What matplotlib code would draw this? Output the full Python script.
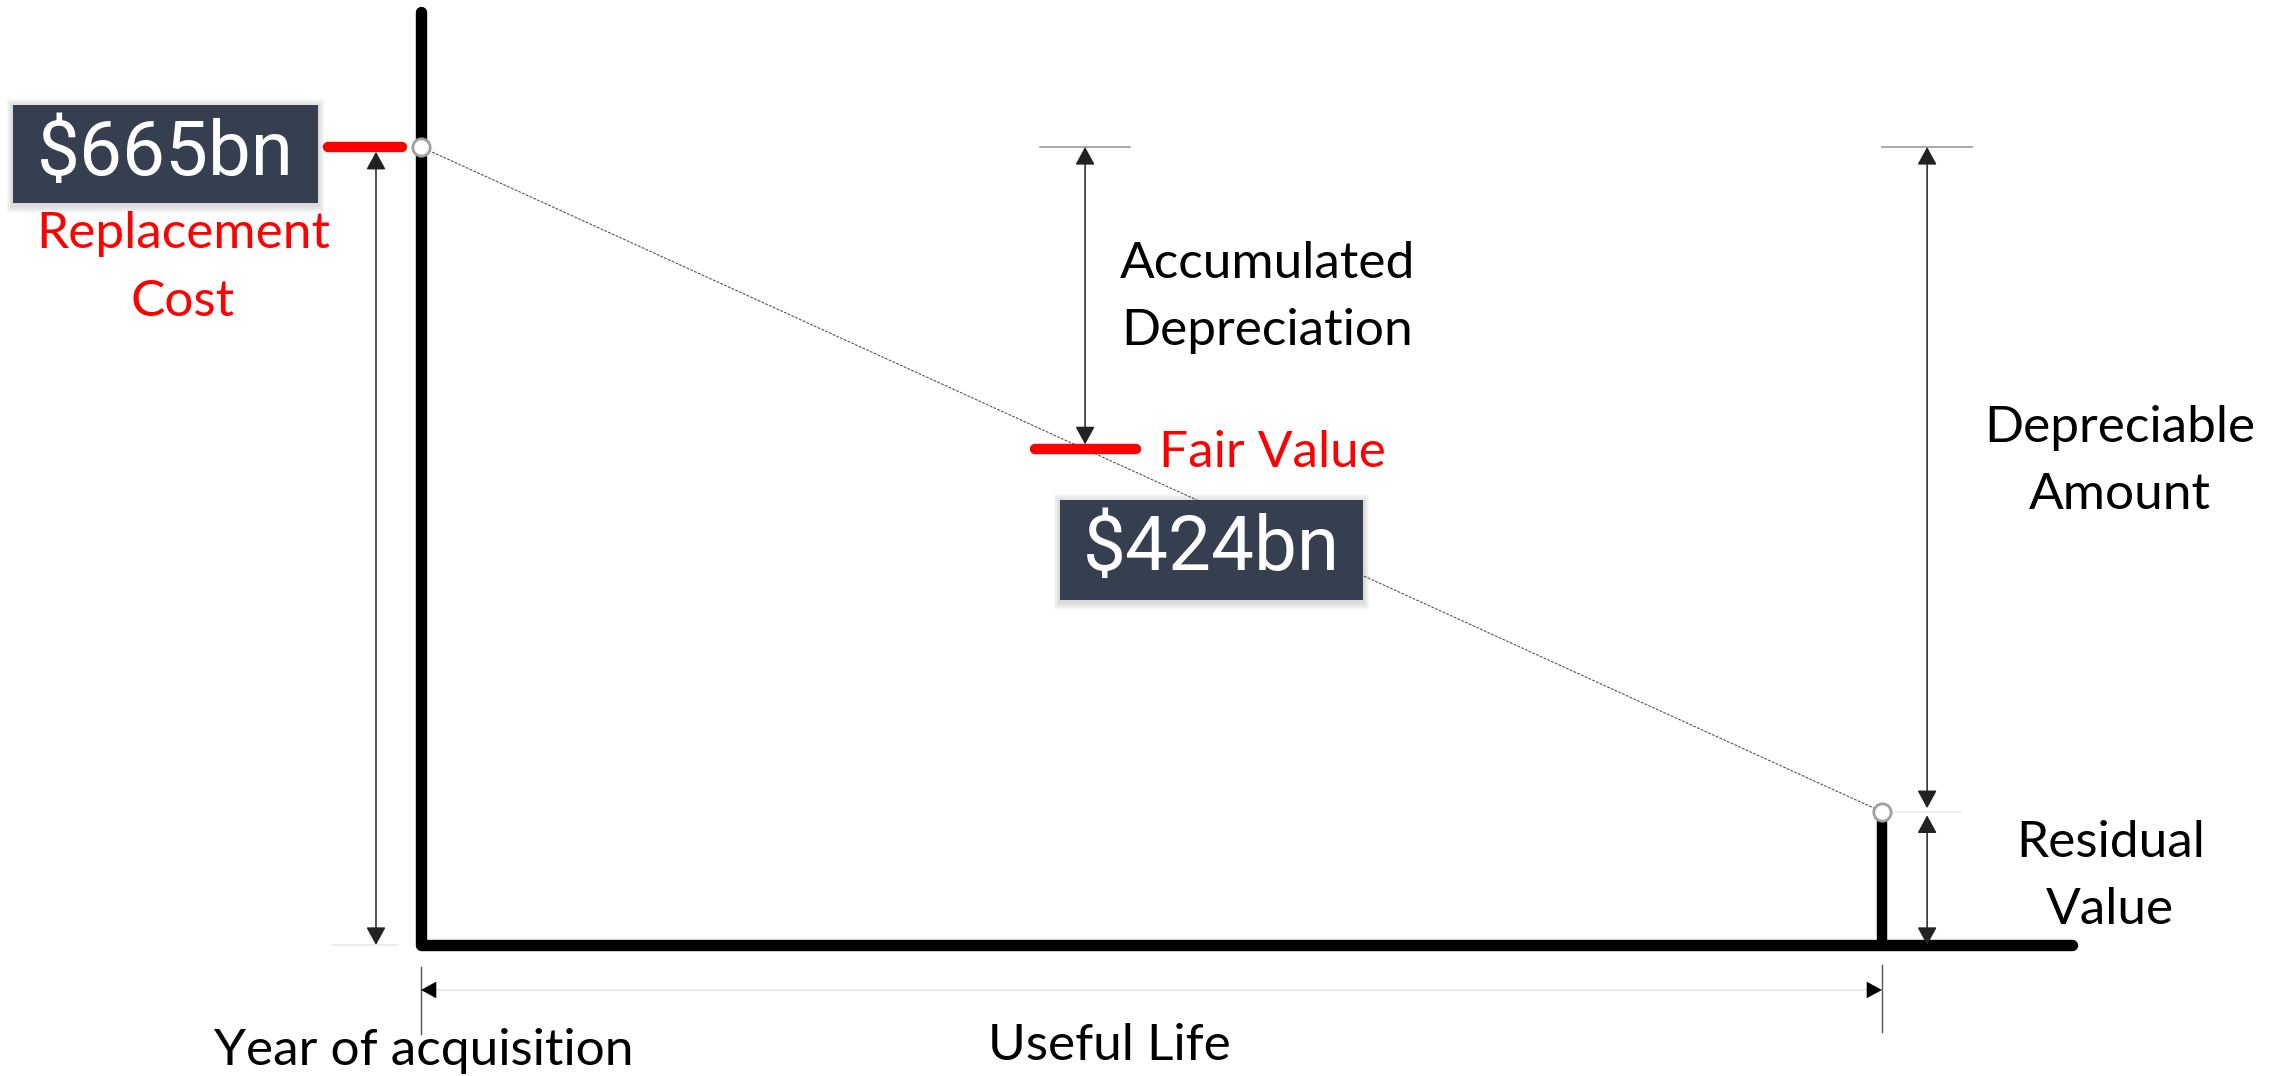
import matplotlib
matplotlib.use("Agg")
import matplotlib.pyplot as plt
from matplotlib.patches import Rectangle

# ---- data ----
replacement_cost = 665        # $bn at year of acquisition
fair_value = 424              # $bn (label)
residual_value = 111          # $bn
useful_life = 11              # years (schematic)
fair_value_year = 5           # years (schematic)
labels_value = ["$665bn", "$424bn"]
text_labels = {
    "replacement": "Replacement\nCost",
    "accumulated": "Accumulated\nDepreciation",
    "fair": "Fair Value",
    "depreciable": "Depreciable\nAmount",
    "residual": "Residual\nValue",
    "acq": "Year of acquisition",
    "life": "Useful Life",
}

# ---- figure ----
fig = plt.figure(figsize=(22.8, 10.76), dpi=100)
ax = fig.add_axes([0, 0, 1, 1])
ax.set_xlim(-3.170, 13.997)
ax.set_ylim(-109.2, 787.5)
ax.axis("off")

TXT_FONT = ["Lato", "DejaVu Sans"]
BOX_FONT = ["Roboto", "DejaVu Sans"]
TFS = 37
BFS = 55
LS = 1.58
BOXC = "#353f50"

fv_line = replacement_cost - (replacement_cost - residual_value) * fair_value_year / useful_life

# axes (thick black)
ax.plot([0, 0, 12.43], [777.5, 0, 0], color="black", lw=8.2,
        solid_capstyle="round", solid_joinstyle="round", zorder=3)
# residual bar
ax.plot([useful_life, useful_life], [0, residual_value], color="black", lw=7.5,
        solid_capstyle="butt", zorder=3)

# depreciation line
ax.plot([0, useful_life], [replacement_cost, residual_value], color="#555555",
        lw=0.8, ls=(0, (2.5, 1.2)), zorder=4)
ax.plot([0, useful_life], [replacement_cost, residual_value], "o", ms=12.5,
        mfc="white", mec="#a0a0a0", mew=2.0, zorder=6)

# red ticks
ax.plot([-0.70, -0.14], [replacement_cost, replacement_cost], color="#ff0000",
        lw=7.5, solid_capstyle="round", zorder=5)
ax.plot([fair_value_year - 0.38, fair_value_year + 0.38], [fv_line, fv_line],
        color="#ff0000", lw=7.5, solid_capstyle="round", zorder=5)


def darrow(x0, y0, x1, y1, style="<|-|>", color="#222222"):
    ax.annotate("", xy=(x1, y1), xytext=(x0, y0),
                arrowprops=dict(arrowstyle=style + ",head_length=0.55,head_width=0.3",
                                color=color, lw=1.1, shrinkA=0, shrinkB=0,
                                mutation_scale=20), zorder=4)


# replacement cost arrow
darrow(-0.339, 0, -0.339, replacement_cost - 4)
ax.plot([-0.67, -0.17], [0, 0], color="#e8e8e8", lw=1.2, zorder=2)

# accumulated depreciation arrow
ax.plot([4.66, 5.34], [replacement_cost, replacement_cost], color="#999999", lw=1.2, zorder=2)
darrow(fair_value_year, fv_line + 4, fair_value_year, replacement_cost)

# depreciable amount and residual arrows
ax.plot([11.0, 11.68], [replacement_cost, replacement_cost], color="#999999", lw=1.2, zorder=2)
ax.plot([11.1, 11.6], [residual_value, residual_value], color="#eeeeee", lw=1.2, zorder=2)
darrow(11.34, residual_value + 3, 11.34, replacement_cost)
darrow(11.34, 0, 11.34, residual_value - 3)

# useful life arrow
ax.plot([0, useful_life], [-37.5, -37.5], color="#e6e6e6", lw=1.3, zorder=2)
ax.annotate("", xy=(0, -37.5), xytext=(0.2, -37.5),
            arrowprops=dict(arrowstyle="-|>,head_length=0.55,head_width=0.3",
                            color="black", lw=0, shrinkA=0, shrinkB=0, mutation_scale=20))
ax.annotate("", xy=(useful_life, -37.5), xytext=(useful_life - 0.2, -37.5),
            arrowprops=dict(arrowstyle="-|>,head_length=0.55,head_width=0.3",
                            color="black", lw=0, shrinkA=0, shrinkB=0, mutation_scale=20))
ax.plot([0, 0], [-18.3, -74.2], color="#555555", lw=1.0)
ax.plot([useful_life, useful_life], [-16.7, -72.5], color="#555555", lw=1.0)


def value_box(x0, x1, y0, y1, label):
    for i in range(4):
        dx = 0.012 * (i + 1)
        dy = 1.6 * (i + 1)
        ax.add_patch(Rectangle((x0 - dx, y0 - dy - 1.5), (x1 - x0) + 2 * dx,
                               (y1 - y0) + 2 * dy, facecolor="black",
                               edgecolor="none", alpha=0.035, zorder=6))
    ax.add_patch(Rectangle((x0, y0), x1 - x0, y1 - y0, facecolor=BOXC,
                           edgecolor="none", zorder=7))
    ax.text((x0 + x1) / 2, (y0 + y1) / 2, label, color="white", fontsize=BFS,
            family=BOX_FONT, ha="center", va="center", zorder=8)


value_box(-3.072, -0.775, 618.3, 700.0, labels_value[0])
value_box(4.811, 7.092, 287.5, 370.8, labels_value[1])

# texts
ax.text(-1.792, 564.0, text_labels["replacement"], color="#ff0000", fontsize=TFS,
        family=TXT_FONT, ha="center", va="center", linespacing=LS)
ax.text(6.37, 539.5, text_labels["accumulated"], color="black", fontsize=TFS,
        family=TXT_FONT, ha="center", va="center", linespacing=LS)
ax.text(5.56, fv_line - 3, text_labels["fair"], color="#ff0000", fontsize=TFS,
        family=TXT_FONT, ha="left", va="center")
ax.text(12.79, 403.0, text_labels["depreciable"], color="black", fontsize=TFS,
        family=TXT_FONT, ha="center", va="center", linespacing=LS)
ax.text(12.72, 57.2, text_labels["residual"], color="black", fontsize=TFS,
        family=TXT_FONT, ha="center", va="center", linespacing=LS)
ax.text(0.02, -88.5, text_labels["acq"], color="black", fontsize=TFS,
        family=TXT_FONT, ha="center", va="center")
ax.text(5.18, -84.0, text_labels["life"], color="black", fontsize=TFS,
        family=TXT_FONT, ha="center", va="center")

fig.savefig("out.png", dpi=100, facecolor="white")
